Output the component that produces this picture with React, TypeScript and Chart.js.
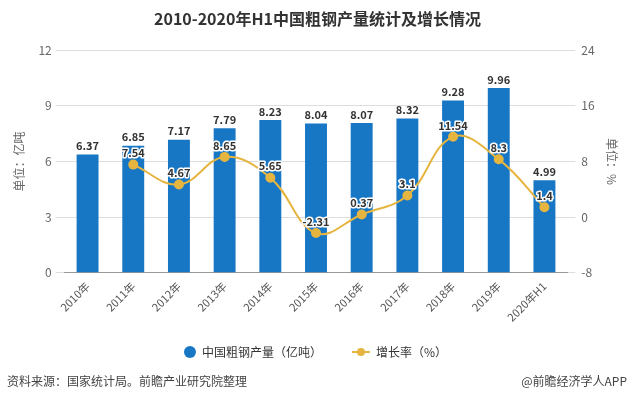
import React, { useEffect, useRef } from "react";
import { Chart, registerables } from "chart.js";
Chart.register(...registerables);

const categories = ["2010年", "2011年", "2012年", "2013年", "2014年", "2015年", "2016年", "2017年", "2018年", "2019年", "2020年H1"];
const output = [6.37, 6.85, 7.17, 7.79, 8.23, 8.04, 8.07, 8.32, 9.28, 9.96, 4.99];
const growth = [null, 7.54, 4.67, 8.65, 5.65, -2.31, 0.37, 3.1, 11.54, 8.3, 1.4];
const leftTicks = [0, 3, 6, 9, 12];
const rightTicks = [-8, 0, 8, 16, 24];

const BLUE = "#1877c4";
const GOLD = "#e6b540";
const FONT = "'Noto Sans CJK SC', 'Noto Sans', sans-serif";

const overlay = {
  id: "overlay",
  afterDatasetsDraw(chart: any) {
    const ctx = chart.ctx;
    ctx.save();
    const barMeta = chart.getDatasetMeta(0);
    ctx.font = `bold 11px ${FONT}`;
    ctx.textAlign = "center";
    ctx.textBaseline = "bottom";
    ctx.fillStyle = "#333";
    barMeta.data.forEach((el: any, i: number) => {
      ctx.fillText(String(output[i]), el.x, el.y - 3);
    });
    const lineMeta = chart.getDatasetMeta(1);
    lineMeta.data.forEach((el: any, i: number) => {
      const v = growth[i];
      if (v === null || v === undefined) return;
      const t = String(v);
      ctx.lineWidth = 3;
      ctx.strokeStyle = "#fff";
      ctx.lineJoin = "round";
      ctx.strokeText(t, el.x, el.y - 6);
      ctx.fillStyle = "#333";
      ctx.fillText(t, el.x, el.y - 6);
    });
    ctx.restore();
  },
  afterDraw(chart: any) {
    const ctx = chart.ctx;
    const W = chart.width;
    ctx.save();
    const ly = 352;
    ctx.font = `12px ${FONT}`;
    ctx.textBaseline = "middle";
    ctx.textAlign = "left";
    const t1 = "中国粗钢产量（亿吨）";
    const t2 = "增长率（%）";
    const w1 = ctx.measureText(t1).width;
    const w2 = ctx.measureText(t2).width;
    const total = 12 + 6 + w1 + 30 + 18 + 6 + w2;
    let x = W / 2 - total / 2;
    ctx.fillStyle = BLUE;
    ctx.beginPath();
    ctx.arc(x + 6, ly, 6, 0, Math.PI * 2);
    ctx.fill();
    x += 18;
    ctx.fillStyle = "#333";
    ctx.fillText(t1, x, ly);
    x += w1 + 30;
    ctx.strokeStyle = GOLD;
    ctx.lineWidth = 2;
    ctx.beginPath();
    ctx.moveTo(x, ly);
    ctx.lineTo(x + 18, ly);
    ctx.stroke();
    ctx.fillStyle = GOLD;
    ctx.beginPath();
    ctx.arc(x + 9, ly, 4, 0, Math.PI * 2);
    ctx.fill();
    x += 24;
    ctx.fillStyle = "#333";
    ctx.fillText(t2, x, ly);
    ctx.font = `12px ${FONT}`;
    ctx.fillStyle = "#444";
    ctx.textAlign = "left";
    ctx.fillText("资料来源：国家统计局。前瞻产业研究院整理", 7, 381);
    ctx.textAlign = "right";
    ctx.fillText("@前瞻经济学人APP", W - 4, 381);
    ctx.restore();
  },
};

export default function App() {
  const ref = useRef<HTMLCanvasElement>(null);
  useEffect(() => {
    document.body.style.margin = "0";
    const chart = new Chart(ref.current!, {
      type: "bar",
      data: {
        labels: categories,
        datasets: [
          {
            type: "bar",
            label: "中国粗钢产量（亿吨）",
            data: output,
            backgroundColor: BLUE,
            yAxisID: "y",
            barPercentage: 0.48,
            categoryPercentage: 1,
            order: 2,
          },
          {
            type: "line",
            label: "增长率（%）",
            data: growth as any,
            borderColor: GOLD,
            backgroundColor: GOLD,
            borderWidth: 2,
            pointRadius: 4,
            pointBackgroundColor: GOLD,
            pointBorderColor: GOLD,
            tension: 0.4,
            yAxisID: "y1",
            order: 1,
          },
        ],
      },
      options: {
        responsive: false,
        animation: false,
        layout: { padding: { top: 0, bottom: 77, left: 8, right: 4 } },
        plugins: {
          legend: { display: false },
          tooltip: { enabled: false },
          title: {
            display: true,
            text: "2010-2020年H1中国粗钢产量统计及增长情况",
            font: { family: FONT, size: 16, weight: "bold" },
            color: "#333",
            padding: { top: 9, bottom: 22 },
          },
        },
        scales: {
          x: {
            grid: { display: false, drawTicks: true, tickLength: 5, tickColor: "#999" } as any,
            border: { color: "#999" },
            ticks: {
              font: { family: FONT, size: 11 },
              color: "#555",
              maxRotation: 45,
              minRotation: 45,
              padding: 2,
            },
          },
          y: {
            position: "left",
            min: 0,
            max: 12,
            afterBuildTicks: (s: any) => { s.ticks = leftTicks.map((v) => ({ value: v })); },
            grid: { color: "#ddd", drawTicks: true, tickLength: 9, tickColor: "#ddd" },
            border: { display: false },
            ticks: { font: { family: FONT, size: 12 }, color: "#666", padding: 4 },
            title: { display: true, text: "单位：亿吨", font: { family: FONT, size: 12 }, color: "#666", padding: { bottom: 8 } },
          },
          y1: {
            position: "right",
            min: -8,
            max: 24,
            afterBuildTicks: (s: any) => { s.ticks = rightTicks.map((v) => ({ value: v })); },
            grid: { drawOnChartArea: false, drawTicks: true, tickLength: 8, tickColor: "#ddd" },
            border: { display: false },
            ticks: { font: { family: FONT, size: 12 }, color: "#666", padding: 6 },
            title: { display: true, text: "单位：%", font: { family: FONT, size: 12 }, color: "#666", padding: { top: 8 } },
          },
        },
      },
      plugins: [overlay],
    });
    return () => chart.destroy();
  }, []);
  return <canvas ref={ref} width={631} height={403} style={{ display: "block" }} />;
}
